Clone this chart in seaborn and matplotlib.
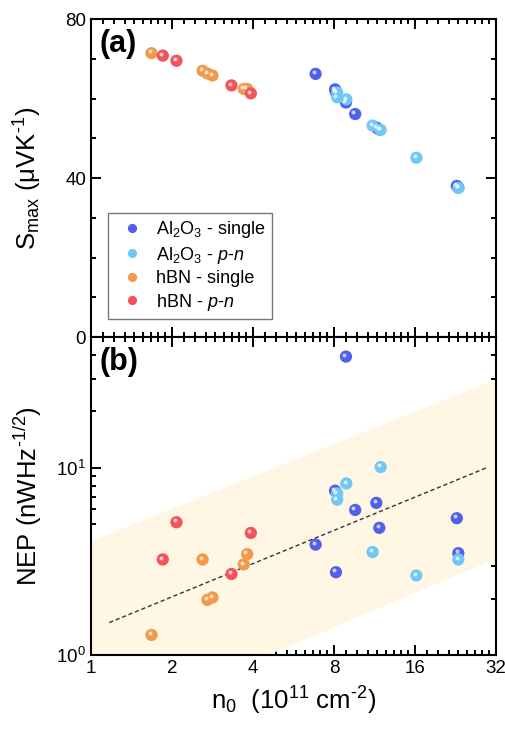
"""
S_max and NEP versus carrier density n0 for Al2O3 and hBN devices
"""
import numpy as np
import pandas as pd
import matplotlib
matplotlib.use('Agg')
import matplotlib.pyplot as plt
import matplotlib.ticker as mticker
from matplotlib.transforms import offset_copy
import seaborn as sns

# ---- data ----
al_single_n = [6.84, 8.08, 8.14, 8.87, 9.6, 11.5, 11.8, 22.9, 23.2]
al_single_s = [66.2, 62.3, 61.6, 59.0, 56.1, 52.7, 52.2, 38.0, 37.6]
al_single_nep = [3.89, 7.55, 2.77, 39.3, 5.96, 6.5, 4.78, 5.38, 3.50]

al_pn_n = [8.23, 8.23, 8.9, 11.14, 11.93, 16.2, 23.2]
al_pn_s = [61.5, 60.3, 59.8, 53.2, 52.1, 45.1, 37.5]
al_pn_nep = [7.3, 6.76, 8.25, 3.55, 10.1, 2.66, 3.24]

hbn_single_n = [1.68, 2.60, 2.71, 2.83, 3.70, 3.81]
hbn_single_s = [71.4, 67.0, 66.3, 65.8, 62.4, 62.4]
hbn_single_nep = [1.28, 3.24, 1.97, 2.03, 3.05, 3.46]

hbn_pn_n = [1.85, 2.08, 3.33, 3.93]
hbn_pn_s = [70.8, 69.5, 63.3, 61.3]
hbn_pn_nep = [3.24, 5.12, 2.71, 4.49]

fit_n = [1.17, 29.5]
fit_nep = [1.49, 10.0]

band_n = [1, 32]
band_lo = [0.40, 3.3]
band_hi = [4.1, 30.0]

x_ticks = [1, 2, 4, 8, 16, 32]

labels = ['Al$_2$O$_3$ - single', 'Al$_2$O$_3$ - $p$-$n$',
          'hBN - single', 'hBN - $p$-$n$']
colors = ['#5060ea', '#72c8f4', '#f09a4c', '#f2545a']

groups = [
    (al_single_n, al_single_s, al_single_nep),
    (al_pn_n, al_pn_s, al_pn_nep),
    (hbn_single_n, hbn_single_s, hbn_single_nep),
    (hbn_pn_n, hbn_pn_s, hbn_pn_nep),
]
frames = []
for lab, (n, s, nep) in zip(labels, groups):
    frames.append(pd.DataFrame({'n0': n, 'S': s, 'NEP': nep, 'sample': lab}))
df = pd.concat(frames, ignore_index=True)

# ---- style ----
sns.set_style('ticks')
plt.rcParams['font.family'] = ['Liberation Sans', 'DejaVu Sans']
plt.rcParams['mathtext.fontset'] = 'custom'
plt.rcParams['mathtext.rm'] = 'Liberation Sans'
plt.rcParams['mathtext.it'] = 'Liberation Sans:italic'
plt.rcParams['mathtext.bf'] = 'Liberation Sans:bold'
plt.rcParams['text.color'] = 'black'
plt.rcParams['axes.labelcolor'] = 'black'
plt.rcParams['xtick.color'] = 'black'
plt.rcParams['ytick.color'] = 'black'

fig = plt.figure(figsize=(5.05, 7.29), dpi=100)
ax_a = fig.add_axes([0.180, 0.5377, 0.802, 0.4362])
ax_b = fig.add_axes([0.180, 0.1015, 0.802, 0.4362])

palette = dict(zip(labels, colors))
marker_size = 78


def add_shine(ax, ycol):
    # small white highlight to mimic the shaded spheres
    tr = offset_copy(ax.transData, fig=fig, x=-1.8, y=1.8, units='dots')
    ax.scatter(df['n0'], df[ycol], s=8, color='white', alpha=0.7,
               linewidths=0, transform=tr, zorder=4)


def style_axis(ax):
    ax.set_xscale('log', base=2)
    ax.set_xlim(1, 32)
    ax.xaxis.set_major_locator(mticker.FixedLocator(x_ticks))
    ax.xaxis.set_minor_locator(mticker.LogLocator(base=2, subs=1 + np.arange(1, 9) / 9))
    ax.xaxis.set_minor_formatter(mticker.NullFormatter())
    ax.tick_params(which='both', direction='in', top=True, right=True,
                   width=1.4, labelsize=13.5, colors='black')
    ax.tick_params(which='major', length=7)
    ax.tick_params(which='minor', length=3.5)
    for sp in ax.spines.values():
        sp.set_linewidth(1.5)
        sp.set_color('black')


# ---- panel (a) ----
sns.scatterplot(data=df, x='n0', y='S', hue='sample', palette=palette,
                s=marker_size, edgecolor='none', ax=ax_a, zorder=3)
add_shine(ax_a, 'S')
style_axis(ax_a)
ax_a.set_ylim(0, 80)
ax_a.yaxis.set_major_locator(mticker.MultipleLocator(40))
ax_a.yaxis.set_minor_locator(mticker.MultipleLocator(10))
ax_a.tick_params(axis='x', labelbottom=False)
ax_a.set_xlabel('')
ax_a.set_ylabel('S$_{\\mathrm{max}}$ (μVK$^{\u20101}$)', fontsize=18.5)
ax_a.yaxis.set_label_coords(-0.115, 0.5)
ax_a.text(0.022, 0.97, '(a)', transform=ax_a.transAxes, fontsize=22,
          fontweight='bold', va='top', ha='left')
leg = ax_a.legend(loc='lower left', bbox_to_anchor=(0.042, 0.057),
                  borderaxespad=0, fontsize=13, frameon=True, fancybox=False,
                  edgecolor='#555555', handletextpad=0.3, labelspacing=0.25,
                  borderpad=0.35, markerscale=0.75)
leg.get_frame().set_linewidth(1.0)

# ---- panel (b) ----
ax_b.fill_between(band_n, band_lo, band_hi, color='#fff6e3', linewidth=0, zorder=1)
ax_b.plot(fit_n, fit_nep, color='#333333', lw=1.0, ls=(0, (3, 2)), zorder=2)
sns.scatterplot(data=df, x='n0', y='NEP', hue='sample', palette=palette,
                s=marker_size, edgecolor='none', ax=ax_b, legend=False, zorder=3)
add_shine(ax_b, 'NEP')
ax_b.set_yscale('log')
style_axis(ax_b)
ax_b.set_ylim(1, 50)
ax_b.xaxis.set_major_formatter(mticker.FixedFormatter([str(t) for t in x_ticks]))
ax_b.set_xlabel('n$_0$  (10$^{11}$ cm$^{\u20102}$)', fontsize=18.5, labelpad=6)
ax_b.set_ylabel('NEP (nWHz$^{\u20101/2}$)', fontsize=18.5)
ax_b.yaxis.set_label_coords(-0.115, 0.5)
ax_b.text(0.022, 0.97, '(b)', transform=ax_b.transAxes, fontsize=22,
          fontweight='bold', va='top', ha='left')

fig.savefig('out.png', dpi=100)
